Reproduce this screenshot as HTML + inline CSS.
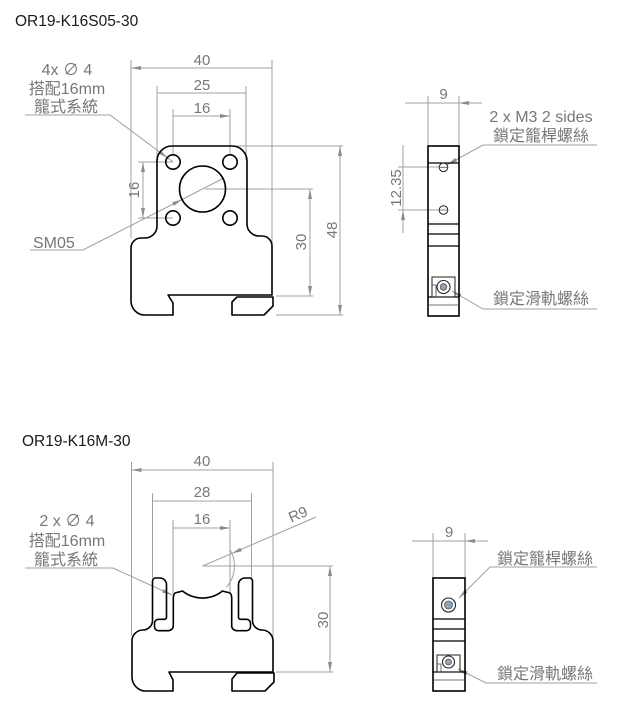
<!DOCTYPE html>
<html><head><meta charset="utf-8"><style>
html,body{margin:0;padding:0;background:#fff;}
svg{display:block;}
text{font-family:"Liberation Sans","Noto Sans CJK TC","DejaVu Sans",sans-serif;}
</style></head><body>
<svg width="628" height="720" viewBox="0 0 628 720" xmlns="http://www.w3.org/2000/svg">
<defs>
<marker id="a" viewBox="0 0 10 4" refX="10" refY="2" markerWidth="10" markerHeight="4" markerUnits="userSpaceOnUse" orient="auto-start-reverse"><path d="M0,0 L10,2 L0,4 z" fill="#8c8c8c"/></marker>
</defs>
<rect width="628" height="720" fill="#fff"/>

<!-- Titles -->
<text x="15" y="26" font-size="15.5" fill="#1a1a1a">OR19-K16S05-30</text>
<text x="22" y="446" font-size="15.5" fill="#1a1a1a">OR19-K16M-30</text>

<!-- ============ TOP LEFT (S05) ============ -->
<g stroke="#a0a0a0" stroke-width="1" fill="none">
  <path d="M131 60 V238 M272 60 V295 M157 86 V160 M246 86 V160 M173 109 V155 M230 109 V155"/>
  <path d="M131 68 H272 M157 93 H246 M173 116 H230" marker-start="url(#a)" marker-end="url(#a)"/>
  <path d="M138 162 H173 M138 218 H173"/>
  <path d="M143 162 V218" marker-start="url(#a)" marker-end="url(#a)"/>
  <path d="M205 189 H313 M276 296 H313"/>
  <path d="M310 189 V296" marker-start="url(#a)" marker-end="url(#a)"/>
  <path d="M232 146 H343 M276 315 H343"/>
  <path d="M340 146 V315" marker-start="url(#a)" marker-end="url(#a)"/>
  <path d="M25 115 H110 L167.4 157.8" marker-end="url(#a)"/>
  <path d="M167.4 157.8 L173 162"/>
  <path d="M30 250 H83 L182 199.5" marker-end="url(#a)"/>
  <path d="M182 199.5 L223 178.5"/>
</g>
<g fill="#777" font-size="15" text-anchor="middle">
  <text x="202" y="65">40</text>
  <text x="202" y="90">25</text>
  <text x="202" y="113">16</text>
  <text transform="translate(139,190) rotate(-90)">16</text>
  <text transform="translate(306,242) rotate(-90)">30</text>
  <text transform="translate(337,230) rotate(-90)">48</text>
</g>
<g fill="#777" font-size="16" text-anchor="middle">
  <text x="67" y="75">4x ∅ 4</text>
  <text x="67" y="94">搭配16mm</text>
  <text x="66" y="112">籠式系統</text>
</g>
<text x="33" y="248" font-size="16" fill="#777">SM05</text>

<g stroke="#000" stroke-width="1.6" fill="none" stroke-linejoin="round">
  <path d="M172 146 H232 A15 15 0 0 1 247 161 V224 A12 12 0 0 0 259 236 H262 A10 10 0 0 1 272 246 V295 H168 L173 303 V315 H145 A14 14 0 0 1 131 301 V248 A10 10 0 0 1 141 238 H145 A12 12 0 0 0 157 226 V161 A15 15 0 0 1 172 146 Z"/>
  <path d="M237 297 H273 V306 L264 315 H232 V302 Z"/>
  <circle cx="173" cy="162" r="7.2"/>
  <circle cx="230" cy="162" r="7.2"/>
  <circle cx="173" cy="218" r="7.2"/>
  <circle cx="230" cy="218" r="7.2"/>
  <circle cx="202.5" cy="189" r="23"/>
</g>

<!-- ============ TOP RIGHT (side view) ============ -->
<g stroke="#a0a0a0" stroke-width="1" fill="none">
  <path d="M428 96 V146 M459 96 V146 M428 103 H459"/>
  <path d="M405 103 H428 M482 103 H459" marker-end="url(#a)"/>
  <path d="M398 167 H439 M398 210 H439 M403 167 V210"/>
  <path d="M403 145 V167 M403 233 V210" marker-end="url(#a)"/>
  <path d="M597 145 H483 L447.5 164.5" marker-end="url(#a)"/>
  <path d="M597 309 H483 L452 291" marker-end="url(#a)"/>
</g>
<g fill="#777" font-size="15" text-anchor="middle">
  <text x="443.5" y="99">9</text>
  <text transform="translate(401,188) rotate(-90)">12.35</text>
</g>
<g fill="#777" font-size="16" text-anchor="middle">
  <text x="541" y="122">2 x M3 2 sides</text>
  <text x="541" y="141">鎖定籠桿螺絲</text>
  <text x="541" y="304">鎖定滑軌螺絲</text>
</g>
<g stroke="#000" fill="none">
  <rect x="428" y="146" width="31" height="170" stroke-width="1.6"/>
  <path d="M428 163 H459 M428 224 H459 M428 234 H459 M428 246 H459 M428 297 H459" stroke-width="1.2"/>
  <path d="M428 305 H459" stroke-width="0.8" stroke="#444"/>
  <circle cx="443.5" cy="167.3" r="4.3" stroke-width="1" stroke="#222"/>
  <circle cx="443.5" cy="210" r="4.3" stroke-width="1" stroke="#222"/>
  <path d="M439.2 167.3 H447.8 M439.2 210 H447.8" stroke-width="0.8" stroke="#555"/>
  <rect x="432" y="277" width="23" height="20" stroke-width="1" stroke="#222"/>
  <path d="M432 285 H436 V297" stroke-width="0.8" stroke="#444"/>
  <circle cx="443.5" cy="287" r="6.5" stroke-width="1.1" stroke="#222"/>
  <circle cx="443.5" cy="287" r="3.3" stroke-width="0.8" stroke="#556" fill="#8fa4b4"/>
</g>

<!-- ============ BOTTOM LEFT (M) ============ -->
<g stroke="#a0a0a0" stroke-width="1" fill="none">
  <path d="M131.5 462 V636 M273 462 V640 M152.5 493 V578 M251.5 493 V578 M173 520 V594 M230 520 V592"/>
  <path d="M131.5 470 H273 M152.5 501 H251.5 M173 528 H230" marker-start="url(#a)" marker-end="url(#a)"/>
  <path d="M316 517 L231.9 553.4" marker-end="url(#a)"/>
  <path d="M231.9 553.4 L202.5 566"/>
  <path d="M230.2 550 A32 32 0 0 1 226.3 587.4"/>
  <path d="M202.5 566 H333 M276 672 H333"/>
  <path d="M330 566 V672" marker-start="url(#a)" marker-end="url(#a)"/>
  <path d="M25 568 H113 L172 595" marker-end="url(#a)"/>
</g>
<g fill="#777" font-size="15" text-anchor="middle">
  <text x="202" y="466">40</text>
  <text x="202" y="497">28</text>
  <text x="202" y="524">16</text>
  <text transform="translate(300,519) rotate(-23.3)">R9</text>
  <text transform="translate(328,620) rotate(-90)">30</text>
</g>
<g fill="#777" font-size="16" text-anchor="middle">
  <text x="67" y="526">2 x ∅ 4</text>
  <text x="67" y="546">搭配16mm</text>
  <text x="66" y="565">籠式系統</text>
</g>
<g stroke="#000" stroke-width="1.6" fill="none" stroke-linejoin="round">
  <path d="M173 691 H146 A14 14 0 0 1 132 677 V641 A11 11 0 0 1 143 630 A9.5 9.5 0 0 0 152.5 620.5 V581 A3 3 0 0 1 155.5 578 H160 A6.5 6.5 0 0 1 166.5 584.5 V617.3 A2 2 0 0 1 164.5 619.3 H158.5 A4 4 0 0 0 154.5 623.3 V626.7 A4 4 0 0 0 158.5 630.7 H168.3 A5 5 0 0 0 173.3 625.7 V598 Q173.3 593 176.5 592.5 Q179.5 592 182.5 591 A32 32 0 0 0 222.5 591 Q225.5 592 228.5 592.5 Q231.7 593 231.7 598 V625.7 A5 5 0 0 0 236.7 630.7 H246.5 A4 4 0 0 0 250.5 626.7 V623.3 A4 4 0 0 0 246.5 619.3 H240.5 A2 2 0 0 1 238.5 617.3 V584.5 A6.5 6.5 0 0 1 245 578 H249.5 A3 3 0 0 1 252.5 581 V620.5 A9.5 9.5 0 0 0 262 630 A11 11 0 0 1 273 641 V672 H169 L173 680 Z"/>
  <path d="M237 673 H274 V682 L265 691 H232 V679 Z"/>
</g>

<!-- ============ BOTTOM RIGHT (side view) ============ -->
<g stroke="#a0a0a0" stroke-width="1" fill="none">
  <path d="M433 533 V578 M465 533 V578 M433 541 H465"/>
  <path d="M412 541 H433 M488 541 H465" marker-end="url(#a)"/>
  <path d="M597 567 H490 L459 598" marker-end="url(#a)"/>
  <path d="M597 683 H486 L458 669" marker-end="url(#a)"/>
</g>
<text x="449" y="537" font-size="15" fill="#777" text-anchor="middle">9</text>
<g fill="#777" font-size="16" text-anchor="middle">
  <text x="545" y="564">鎖定籠桿螺絲</text>
  <text x="545" y="679">鎖定滑軌螺絲</text>
</g>
<g stroke="#000" fill="none">
  <rect x="433" y="578" width="32" height="113" stroke-width="1.6"/>
  <path d="M433 619 H465 M433 629 H465 M433 641 H465 M433 672 H465" stroke-width="1.2"/>
  <path d="M433 680 H465" stroke-width="0.8" stroke="#444"/>
  <circle cx="448.5" cy="605" r="7" stroke-width="1.1" stroke="#222"/>
  <circle cx="448.5" cy="605" r="4" stroke-width="0.8" stroke="#556" fill="#8fa4b4"/>
  <rect x="437" y="655" width="23" height="17" stroke-width="1" stroke="#222"/>
  <path d="M437 664 H441 V672" stroke-width="0.8" stroke="#444"/>
  <circle cx="448.5" cy="662" r="6" stroke-width="1.1" stroke="#222"/>
  <circle cx="448.5" cy="662" r="3" stroke-width="0.8" stroke="#556" fill="#8fa4b4"/>
</g>
</svg>
</body></html>
